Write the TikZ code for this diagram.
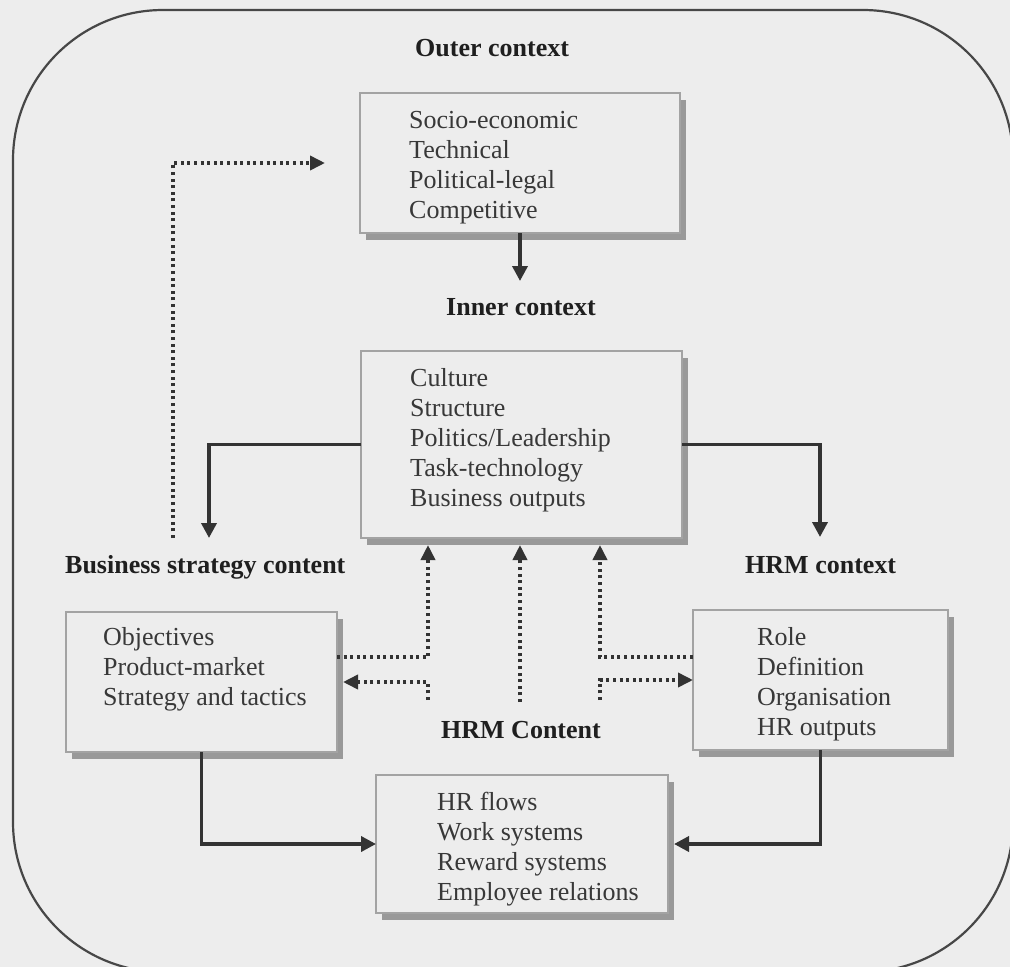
\documentclass[tikz,border=0pt]{standalone}
\usepackage{fontspec}
\setmainfont{Liberation Serif}
\usetikzlibrary{arrows.meta,shadows}
\definecolor{paper}{gray}{0.93}
\definecolor{ink}{gray}{0.2}
\definecolor{rim}{gray}{0.64}
\definecolor{shade}{gray}{0.6}
\tikzset{
  frame/.style={draw=black!72, line width=2.2pt, rounded corners=150pt},
  panel/.style={draw=rim, line width=1.4pt, fill=paper, inner sep=0pt, outer sep=0pt,
    anchor=north west,
    drop shadow={shadow xshift=6pt, shadow yshift=-7pt, fill=shade, opacity=1}},
  items/.style={anchor=north west, inner sep=0pt, align=left, text=black!78,
    font=\fontsize{26}{30}\selectfont},
  heading/.style={anchor=base west, inner sep=0pt, text=black!88,
    font=\bfseries\fontsize{26}{30}\selectfont},
  flow/.style={draw=ink, line width=3.6pt, -{Triangle[length=15pt,width=15pt]}},
  link/.style={draw=ink, line width=3.6pt, dash pattern=on 3pt off 3.6pt,
    -{Triangle[length=15pt,width=14pt]}},
}
\begin{document}
\begin{tikzpicture}[x=1pt,y=-1pt]
\clip (0,0) rectangle (1010,967);
\fill[paper] (0,0) rectangle (1010,967);
\draw[frame] (13,10) rectangle (1013,972);

% boxes
\node[panel, minimum width=320pt, minimum height=140pt] (outer) at (360,93) {};
\node[panel, minimum width=321pt, minimum height=187pt] (inner) at (361,351) {};
\node[panel, minimum width=271pt, minimum height=140pt] (bsc) at (66,612) {};
\node[panel, minimum width=255pt, minimum height=140pt] (hrm) at (693,610) {};
\node[panel, minimum width=292pt, minimum height=138pt] (hrmc) at (376,775) {};

% headings
\node[heading] (outerhd) at (415,56) {Outer context};
\node[heading] (innerhd) at (446,315) {Inner context};
\node[heading] (bschd) at (65,573) {Business strategy content};
\node[heading] (hrmhd) at (745,573) {HRM context};
\node[heading] (contenthd) at (441,738) {HRM Content};

% item lists
\node[items] (outerlist) at (409,107) {\strut Socio-economic\\Technical\\Political-legal\\Competitive};
\node[items] (innerlist) at (410,365) {\strut Culture\\Structure\\Politics/Leadership\\Task-technology\\Business outputs};
\node[items] (bsclist) at (103,624) {\strut Objectives\\Product-market\\Strategy and tactics};
\node[items] (hrmlist) at (757,624) {\strut Role\\Definition\\Organisation\\HR outputs};
\node[items] (hrmclist) at (437,789) {\strut HR flows\\Work systems\\Reward systems\\Employee relations};

% free ends of the connectors
\coordinate (innerin) at (520,281);
\coordinate (bscin) at (209,538);
\coordinate (hrmin) at (820,537);
\coordinate (outfeed) at (173,538);
\coordinate (tipL) at (428,545);
\coordinate (tipM) at (520,545);
\coordinate (tipR) at (600,545);
\coordinate (srcL) at (428,700);
\coordinate (srcM) at (520,702);
\coordinate (srcR) at (600,700);

% solid flows
\draw[flow] (outer.south) -- (innerin);
\draw[flow] (inner.west) -| (bscin);
\draw[flow] (inner.east) -| (hrmin);
\draw[flow] (bsc.south) |- (hrmc.west);
\draw[flow] (hrm.south) |- ([xshift=6pt]hrmc.east);

% dotted links
\draw[link] (outfeed) |- ([xshift=-35pt]outer.west);
\draw[link] ([yshift=25pt]bsc.east) -| (tipL);
\draw[link] (srcL) |- ([xshift=6pt]bsc.east);
\draw[link] (srcM) -- (tipM);
\draw[link] ([yshift=23pt]hrm.west) -| (tipR);
\draw[link] (srcR) |- (hrm.west);
\end{tikzpicture}
\end{document}
